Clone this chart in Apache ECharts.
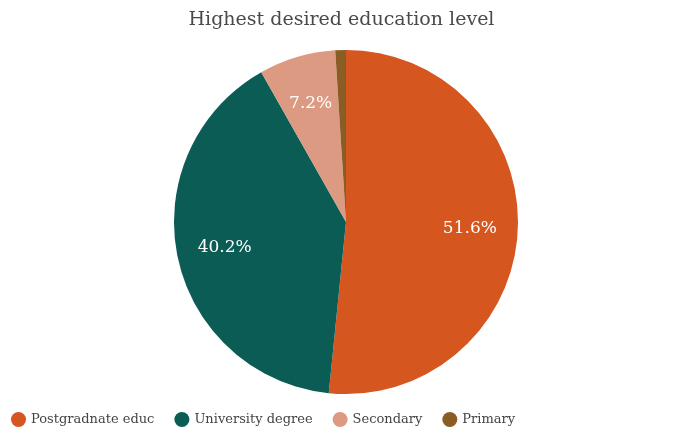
<!DOCTYPE html>
<html>
<head>
<meta charset="utf-8">
<script src="https://cdn.jsdelivr.net/npm/echarts@6/dist/echarts.min.js"></script>
<style>
  html, body { margin: 0; padding: 0; background: #ffffff; }
  #chart { width: 683px; height: 433px; }
</style>
</head>
<body>
<div id="chart"></div>
<script>
// Highest desired education level, share of respondents (%)
const categories = ['Postgradnate educ', 'University degree', 'Secondary', 'Primary'];
const shares = [51.6, 40.2, 7.2, 1.0];
const sliceColors = ['#d5561f', '#0b5c55', '#dc9a82', '#8a5d24'];
const labelMin = 5; // slices below this share carry no label

const SERIF = '"DejaVu Serif", "Liberation Serif", serif';
const pieData = categories.map((name, i) => ({ name: name, value: shares[i] }));

const chart = echarts.init(document.getElementById('chart'), null, { renderer: 'canvas' });
chart.setOption({
  backgroundColor: '#ffffff',
  color: sliceColors,
  animation: false,
  title: {
    text: 'Highest desired education level',
    left: 'center',
    top: 6,
    textStyle: { fontFamily: SERIF, fontWeight: 'normal', fontSize: 19, color: '#4a4a4a' }
  },
  legend: {
    data: categories,
    left: 6,
    bottom: 1,
    icon: 'circle',
    itemWidth: 15,
    itemHeight: 15,
    itemGap: 20,
    textStyle: { fontFamily: SERIF, fontSize: 13, color: '#444444' }
  },
  series: [
    {
      type: 'pie',
      center: [346, 222],
      radius: 172,
      startAngle: 90,
      clockwise: true,
      data: pieData,
      label: { show: false },
      labelLine: { show: false },
      emphasis: { disabled: true }
    },
    {
      // transparent twin that places the percentage labels toward the rim
      type: 'pie',
      center: [346, 222],
      radius: 242,
      startAngle: 90,
      clockwise: true,
      silent: true,
      data: pieData,
      itemStyle: { color: 'rgba(0,0,0,0)' },
      label: {
        show: true,
        position: 'inside',
        color: '#ffffff',
        fontFamily: SERIF,
        fontSize: 17,
        formatter: p => (p.value >= labelMin ? p.value.toFixed(1) + '%' : '')
      },
      labelLine: { show: false },
      emphasis: { disabled: true }
    }
  ]
});
</script>
</body>
</html>
